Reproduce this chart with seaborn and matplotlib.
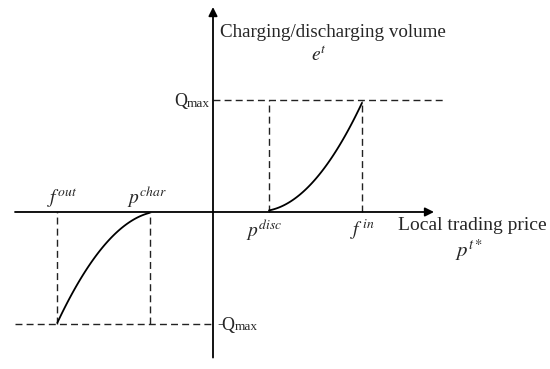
import numpy as np
import pandas as pd
import matplotlib
matplotlib.use('Agg')
import matplotlib.pyplot as plt
import seaborn as sns

# prices on the x axis (origin at 0), volume on y axis (Qmax = 1)
f_out, p_char, p_disc, f_in = -1.56, -0.63, 0.56, 1.49
q_max = 1.0

# curve points
disc_x = [0.56, 0.82, 1.087, 1.287, 1.42, 1.49]
disc_y = [0.0, 0.152, 0.36, 0.598, 0.836, 1.0]
char_x = [-1.557, -1.397, -1.23, -1.063, -0.863, -0.73, -0.637]
char_y = [-1.0, -0.696, -0.458, -0.28, -0.116, -0.042, 0.0]

sns.set_style('white')
plt.rcParams['font.family'] = ['Liberation Serif', 'DejaVu Serif']
plt.rcParams['mathtext.fontset'] = 'stix'

fig = plt.figure(figsize=(5.5, 3.69), dpi=100)
ax = fig.add_axes([0, 0, 1, 1])

# axes with arrows
arr = dict(arrowstyle='-|>', mutation_scale=13, lw=1.3, color='black', shrinkA=0, shrinkB=0)
ax.annotate('', xy=(2.21, 0), xytext=(-1.98, 0), arrowprops=arr)
ax.annotate('', xy=(0, 1.83), xytext=(0, -1.30), arrowprops=arr)

# dashed guides
dash = dict(color='#222222', lw=1.0, linestyles=(0, (5, 3)))
ax.hlines(q_max, 0, 2.32, **dash)
ax.hlines(-q_max, -1.98, 0, **dash)
ax.vlines([p_disc, f_in], 0, q_max, **dash)
ax.vlines([f_out, p_char], -q_max, 0, **dash)

# curves
disc = pd.DataFrame({'x': disc_x, 'y': disc_y})
char = pd.DataFrame({'x': char_x, 'y': char_y})
sns.regplot(data=disc, x='x', y='y', order=2, ci=None, scatter=False,
            line_kws=dict(color='black', lw=1.3), ax=ax)
sns.regplot(data=char, x='x', y='y', order=2, ci=None, scatter=False,
            line_kws=dict(color='black', lw=1.3), ax=ax)
ax.set_xlim(-2.13, 3.37)
ax.set_ylim(-1.402, 1.893)
ax.axis('off')

# labels
ax.text(0.07, 1.6, 'Charging/discharging volume', fontsize=13.7, va='center', ha='left')
ax.text(1.06, 1.4, r'$e^{t}$', fontsize=14, va='center', ha='center')
ax.text(1.85, -0.12, 'Local trading price', fontsize=14, va='center', ha='left')
ax.text(2.56, -0.34, r'$p^{t*}$', fontsize=15, va='center', ha='center')

ax.text(f_out + 0.05, 0.02, r'$f^{out}$', fontsize=14, va='bottom', ha='center')
ax.text(p_char - 0.03, 0.02, r'$p^{char}$', fontsize=14, va='bottom', ha='center')
ax.text(p_disc - 0.05, -0.05, r'$p^{disc}$', fontsize=14, va='top', ha='center')
ax.text(f_in - 0.0, -0.05, r'$f^{\,in}$', fontsize=14, va='top', ha='center')

# Qmax labels: big Q, small "max"
m1 = ax.text(-0.03, q_max - 0.06, 'max', fontsize=9.5, va='baseline', ha='right')
ax.annotate('Q', xy=(0, 0), xycoords=m1, xytext=(0, 2.6), textcoords='offset points',
            ha='right', va='baseline', fontsize=13)
ax.text(0.04, -q_max, '-', fontsize=12, va='center', ha='left')
qq = ax.annotate('Q', xy=(0.085, -q_max - 0.05), xycoords='data', ha='left', va='baseline', fontsize=13)
ax.annotate('max', xy=(1, 0), xycoords=qq, xytext=(0, 2.8), textcoords='offset points',
            ha='left', va='baseline', fontsize=9.5)

fig.savefig('out.png', dpi=100)
